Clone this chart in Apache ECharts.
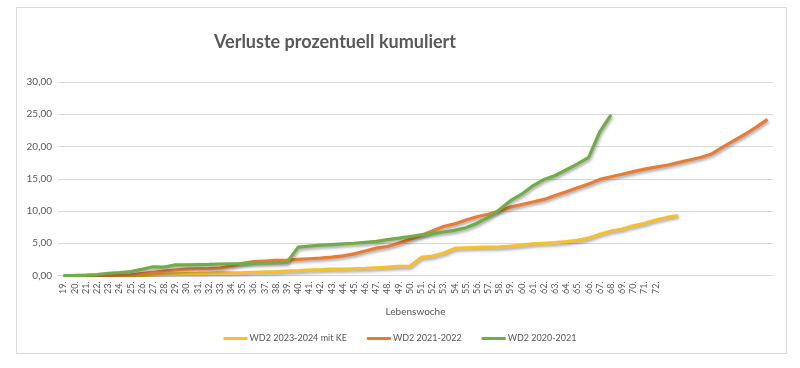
<!DOCTYPE html>
<html>
<head>
<meta charset="utf-8">
<script src="https://cdn.jsdelivr.net/npm/echarts@6/dist/echarts.min.js"></script>
<style>
html,body{margin:0;padding:0;background:#fff;}
#chart{width:800px;height:368px;}
</style>
</head>
<body>
<div id="chart"></div>
<script>
// Lebenswochen 19..82 (labels shown only up to 72.)
var weeks = [];
for (var w = 19; w <= 82; w++) weeks.push(w + '.');
var lastLabelledWeek = '72.';

var seriesNames = ['WD2 2023-2024 mit KE', 'WD2 2021-2022', 'WD2 2020-2021'];

var wd2_2023_2024 = [0,0,0,0,0,0,0,0,0.1,0.2,0.25,0.3,0.32,0.35,0.4,0.42,0.45,0.5,0.55,0.6,
  0.7,0.75,0.85,0.9,1.0,1.0,1.05,1.1,1.2,1.3,1.4,1.45,2.8,3.0,3.45,4.2,4.3,4.35,4.4,4.45,
  4.55,4.7,4.9,5.0,5.1,5.25,5.45,5.8,6.4,6.9,7.2,7.7,8.1,8.6,9.0,9.3];

var wd2_2021_2022 = [0,0,0,0,0.02,0.05,0.1,0.3,0.5,0.7,0.85,1.0,1.05,1.08,1.15,1.5,1.9,2.15,2.25,2.35,
  2.4,2.5,2.6,2.7,2.85,3.05,3.35,3.8,4.25,4.5,5.0,5.6,6.2,6.9,7.6,8.0,8.6,9.1,9.5,10.0,
  10.6,11.0,11.4,11.8,12.4,13.0,13.6,14.2,14.9,15.3,15.7,16.1,16.5,16.8,17.1,17.5,17.9,18.3,18.85,19.9,
  20.9,21.9,23.0,24.2];

var wd2_2020_2021 = [0,0.02,0.05,0.15,0.35,0.45,0.6,0.95,1.35,1.3,1.65,1.65,1.7,1.72,1.78,1.82,1.85,1.9,1.95,2.0,
  2.05,4.4,4.55,4.7,4.8,4.9,5.0,5.15,5.3,5.55,5.8,6.05,6.3,6.5,6.75,7.0,7.4,8.1,9.0,10.2,
  11.6,12.6,13.9,14.9,15.5,16.4,17.3,18.3,22.3,24.9];

var colors = ['#F7BE2E', '#E97C35', '#70AD47'];
var dataSets = [wd2_2023_2024, wd2_2021_2022, wd2_2020_2021];

var chart = echarts.init(document.getElementById('chart'), null, {renderer: 'canvas'});
var lastIdx = weeks.indexOf(lastLabelledWeek);

var series = seriesNames.map(function (name, i) {
  return {
    name: name,
    type: 'line',
    data: dataSets[i],
    showSymbol: false,
    symbol: 'none',
    smooth: false,
    lineStyle: {
      color: colors[i], width: 3.2,
      shadowColor: 'rgba(0,0,0,0.35)', shadowBlur: 3, shadowOffsetX: 1, shadowOffsetY: 2
    },
    itemStyle: {color: colors[i]},
    emphasis: {disabled: true}
  };
});

chart.setOption({
  animation: false,
  backgroundColor: '#fff',
  graphic: [{
    type: 'rect',
    shape: {x: 16.5, y: 7.5, width: 770, height: 346},
    style: {fill: 'none', stroke: '#d9d9d9', lineWidth: 1},
    z: -1
  }],
  title: {
    text: 'Verluste prozentuell kumuliert',
    left: 330, top: 28, textAlign: 'center',
    textStyle: {fontFamily: 'Lato', fontSize: 18, fontWeight: 'bold', color: '#595959'}
  },
  legend: {
    data: seriesNames,
    bottom: 20,
    left: 'center',
    itemWidth: 24, itemHeight: 3, itemGap: 20,
    icon: 'rect',
    textStyle: {fontFamily: 'Lato', fontSize: 9, color: '#595959', padding: [0,0,0,-3]}
  },
  grid: {left: 58, right: 27, top: 82, bottom: 92.5, containLabel: false},
  xAxis: {
    type: 'category',
    data: weeks,
    boundaryGap: true,
    name: 'Lebenswoche',
    nameLocation: 'middle',
    nameGap: 31,
    nameTextStyle: {fontFamily: 'Lato', fontSize: 10, color: '#595959'},
    axisLine: {lineStyle: {color: '#d9d9d9'}},
    axisTick: {show: false},
    axisLabel: {
      interval: 0, rotate: 90, fontFamily: 'Lato', fontSize: 9, color: '#595959', margin: 6,
      formatter: function (v, idx) { return idx <= lastIdx ? v : ''; }
    },
    splitLine: {show: false}
  },
  yAxis: {
    type: 'value',
    min: 0, max: 30, interval: 5,
    axisLine: {show: false},
    axisTick: {show: false},
    axisLabel: {
      fontFamily: 'Lato', fontSize: 10, color: '#595959', margin: 6,
      formatter: function (v) { return v.toFixed(2).replace('.', ','); }
    },
    splitLine: {lineStyle: {color: '#d9d9d9', width: 1}}
  },
  series: series
});
</script>
</body>
</html>
